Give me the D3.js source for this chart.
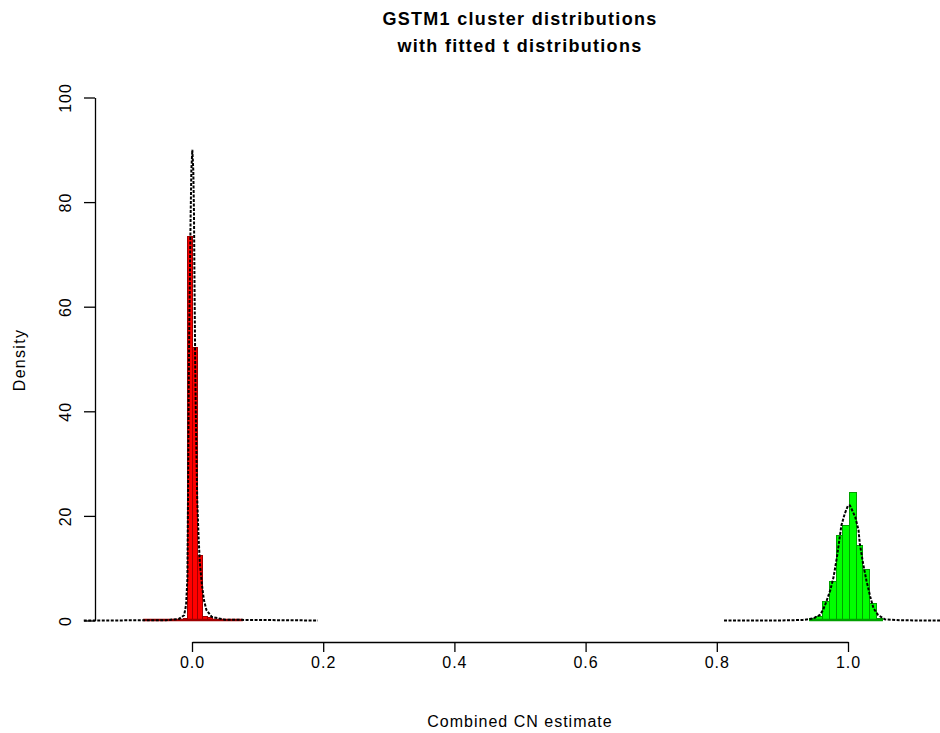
<!DOCTYPE html>
<html>
<head>
<meta charset="utf-8">
<script src="https://cdn.jsdelivr.net/npm/d3@7"></script>
<style>
  body { margin: 0; background: #fff; }
  svg { display: block; font-family: "Liberation Sans", Arial, sans-serif; }
  .axis text { font-size: 16px; fill: #000; letter-spacing: 1px; }
  .axis path, .axis line { stroke: #000; stroke-width: 1.3; }
</style>
</head>
<body>
<div id="wrapper"></div>
<script>
// Red cluster histogram: bin breaks and densities
const redStart = -0.0745
const redBinWidth = 0.0076
const redDensity = [0, 0, 0, 0, 0, 0, 0, 0, 0.3, 73.4, 52.2, 12.4, 0.8, 0.5, 0.1, 0, 0, 0, 0, 0]

// Green cluster histogram: bin breaks and densities
const greenStart = 0.9410
const greenBinWidth = 0.0102
const greenDensity = [0.45, 0.8, 3.6, 7.5, 16.3, 18.2, 24.4, 14.3, 9.75, 3.25, 0.45]

// Fitted t distribution curves
const redCurveX = [-0.165, -0.04, -0.02, -0.012, -0.009, -0.007, -0.006, -0.005, -0.004, -0.003, -0.002, -0.001, 0.0005,
  0.002, 0.003, 0.004, 0.005, 0.006, 0.007, 0.008, 0.010, 0.012, 0.015, 0.018, 0.022, 0.03, 0.05, 0.192]
const redCurveY = [0, 0.05, 0.3, 1, 3, 8, 25, 45, 58, 68, 78, 86, 90,
  86, 78, 62, 48, 38, 30, 23, 16, 11, 7, 4, 2, 0.7, 0.15, 0]

const greenCurveX = [0.811, 0.90, 0.931, 0.947, 0.957, 0.962, 0.967, 0.973, 0.978, 0.983, 0.988, 0.990, 0.995, 1.000,
  1.003, 1.011, 1.016, 1.018, 1.023, 1.028, 1.034, 1.039, 1.046, 1.056, 1.08, 1.16]
const greenCurveY = [0, 0.02, 0.1, 0.4, 1.05, 2, 3.6, 5.8, 8.3, 12, 16.5, 18.2, 20.4, 22,
  22, 19.8, 17.3, 14.7, 10.9, 7.7, 4.5, 2.3, 1.05, 0.23, 0.03, 0]

const xTicks = [0, 0.2, 0.4, 0.6, 0.8, 1.0]
const yTicks = [0, 20, 40, 60, 80, 100]

const width = 940
const height = 733

const svg = d3.select("#wrapper").append("svg")
    .attr("width", width)
    .attr("height", height)

const x = d3.scaleLinear().domain([0, 1]).range([192, 848])
const y = d3.scaleLinear().domain([0, 100]).range([620.5, 97.5])

// **************************
// Histograms (empty bins still leave their border on the baseline)
// **************************
function drawHist(start, binWidth, values, fill, stroke) {
  const bins = values.map((v, i) => ({ x0: start + i * binWidth, x1: start + (i + 1) * binWidth, v }))
  const g = svg.append("g")

  g.selectAll("rect")
    .data(bins.filter(d => d.v > 0))
    .join("rect")
      .attr("x", d => x(d.x0))
      .attr("y", d => y(d.v))
      .attr("width", d => x(d.x1) - x(d.x0))
      .attr("height", d => y(0) - y(d.v))
      .attr("fill", fill)
      .attr("stroke", stroke)
      .attr("stroke-width", 1)
      .attr("shape-rendering", "crispEdges")

  g.append("line")
      .attr("x1", x(bins[0].x0))
      .attr("x2", x(bins[bins.length - 1].x1))
      .attr("y1", y(0) - 0.5)
      .attr("y2", y(0) - 0.5)
      .attr("stroke", stroke)
      .attr("stroke-width", 2.5)
}

drawHist(redStart, redBinWidth, redDensity, "#ff0000", "#a00000")
drawHist(greenStart, greenBinWidth, greenDensity, "#00ff00", "#00a000")

// **************************
// Fitted curves (dotted)
// **************************
const line = d3.line()
    .x(d => x(d[0]))
    .y(d => y(d[1]))

function drawCurve(xs, ys) {
  svg.append("path")
    .attr("d", line(xs.map((v, i) => [v, ys[i]])))
    .attr("fill", "none")
    .attr("stroke", "#000")
    .attr("stroke-width", 2)
    .attr("stroke-dasharray", "3,1.5")
}

drawCurve(redCurveX, redCurveY)
drawCurve(greenCurveX, greenCurveY)

// **************************
// Axes
// **************************
svg.append("g")
    .attr("class", "axis")
    .attr("transform", "translate(0,642)")
    .call(d3.axisBottom(x).tickValues(xTicks).tickFormat(d3.format(".1f")).tickSize(10).tickSizeOuter(0).tickPadding(5))

const yAxis = svg.append("g")
    .attr("class", "axis")
    .attr("transform", "translate(95,0)")
    .call(d3.axisLeft(y).tickValues(yTicks).tickSize(11).tickSizeOuter(0))

yAxis.selectAll(".tick text")
    .attr("x", null)
    .attr("dy", null)
    .attr("text-anchor", "middle")
    .attr("transform", "translate(-24,0) rotate(-90)")

// **************************
// Titles
// **************************
svg.append("text")
    .attr("x", 520)
    .attr("y", 25)
    .attr("text-anchor", "middle")
    .attr("font-size", 18)
    .attr("font-weight", "bold")
    .attr("letter-spacing", 1.3)
    .text("GSTM1 cluster distributions")

svg.append("text")
    .attr("x", 520)
    .attr("y", 52)
    .attr("text-anchor", "middle")
    .attr("font-size", 18)
    .attr("font-weight", "bold")
    .attr("letter-spacing", 1.3)
    .text("with fitted t distributions")

svg.append("text")
    .attr("x", 520)
    .attr("y", 727)
    .attr("text-anchor", "middle")
    .attr("font-size", 16)
    .attr("letter-spacing", 1)
    .text("Combined CN estimate")

svg.append("text")
    .attr("transform", "translate(25,360) rotate(-90)")
    .attr("text-anchor", "middle")
    .attr("font-size", 16)
    .attr("letter-spacing", 1.3)
    .text("Density")
</script>
</body>
</html>
